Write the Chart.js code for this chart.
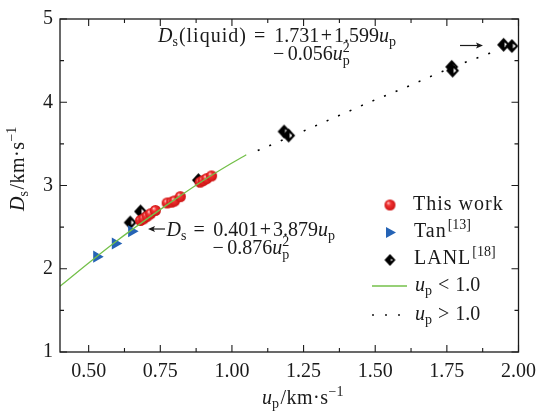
<!DOCTYPE html>
<html><head><meta charset="utf-8">
<script src="https://cdn.jsdelivr.net/npm/chart.js@4/dist/chart.umd.min.js"></script>
<style>html,body{margin:0;padding:0;background:#fff}</style>
</head><body>
<canvas id="c" width="544" height="414"></canvas>
<script>
// ---- data ----
const xTicks = [0.5, 0.75, 1.0, 1.25, 1.5, 1.75, 2.0];
const xMinor = [0.625, 0.875, 1.125, 1.375, 1.625, 1.875];
const yTicks = [1, 2, 3, 4, 5];
const yMinor = [1.5, 2.5, 3.5, 4.5];

const thisWorkX = [0.681, 0.692, 0.704, 0.716, 0.733, 0.774, 0.790, 0.800, 0.820, 0.889, 0.900, 0.912, 0.929];
const thisWorkY = [2.58, 2.60, 2.63, 2.66, 2.70, 2.79, 2.80, 2.815, 2.866, 3.04, 3.06, 3.083, 3.115];

const tanX = [0.528, 0.593, 0.650];
const tanY = [2.145, 2.303, 2.45];

const lanlX = [0.645, 0.681, 0.883, 1.182, 1.198, 1.767, 1.770, 1.948, 1.977];
const lanlY = [2.555, 2.688, 3.064, 3.648, 3.600, 4.425, 4.38, 4.69, 4.675];

const fitLowX = [0.40, 0.50, 0.60, 0.70, 0.80, 0.90, 1.00, 1.05];
const fitLowY = [1.79, 2.07, 2.34, 2.59, 2.83, 3.06, 3.27, 3.37];

const fitHighX = [1.09, 1.20, 1.30, 1.40, 1.50, 1.60, 1.70, 1.80, 1.90, 1.93];
const fitHighY = [3.42, 3.58, 3.73, 3.88, 4.03, 4.17, 4.32, 4.46, 4.59, 4.63];

// ---- styles ----
const FAM = "'Liberation Serif', 'Times New Roman', serif";
const GREEN = '#74c04a';
const BLUE = '#2563b5';
const INK = '#1a1a1a';

function ballImg(r) {
  const s = Math.ceil(2 * r + 2), c = document.createElement('canvas');
  c.width = c.height = s;
  const g = c.getContext('2d'), m = s / 2;
  const grd = g.createRadialGradient(m - r * 0.35, m - r * 0.4, r * 0.05, m, m, r);
  grd.addColorStop(0, '#ffc4c4');
  grd.addColorStop(0.35, '#f23333');
  grd.addColorStop(1, '#cc1414');
  g.fillStyle = grd;
  g.beginPath(); g.arc(m, m, r, 0, Math.PI * 2); g.fill();
  return c;
}
function diamondImg(w, h) {
  const c = document.createElement('canvas');
  c.width = Math.ceil(w + 2); c.height = Math.ceil(h + 2);
  const g = c.getContext('2d'), cx = c.width / 2, cy = c.height / 2;
  g.fillStyle = '#000';
  g.beginPath();
  g.moveTo(cx, cy - h / 2); g.lineTo(cx + w / 2, cy); g.lineTo(cx, cy + h / 2); g.lineTo(cx - w / 2, cy);
  g.closePath(); g.fill();
  g.fillStyle = '#fff';
  g.beginPath();
  g.moveTo(cx + 1, cy - h / 2 + 4.5); g.lineTo(cx + w / 2 - 2.8, cy); g.lineTo(cx + 1, cy + h / 2 - 4.5);
  g.closePath(); g.fill();
  return c;
}
const BALL = ballImg(5.5);
const DIAM = diamondImg(13, 14);
const DIAM_L = diamondImg(11, 12);

const pts = (xs, ys) => xs.map((x, i) => ({ x, y: ys[i] }));

// ---- rich text helper ----
function setFont(ctx, size, italic) { ctx.font = (italic ? 'italic ' : '') + size + 'px ' + FAM; }
function run(ctx, segs, x, y, size) {
  let cx = x;
  for (const s of segs) {
    if (typeof s === 'number') { cx += s; continue; }
    if (s.k === 'ss') {
      setFont(ctx, size * 0.7, false);
      ctx.fillText(s.sup, cx, y - size * 0.42);
      const w1 = ctx.measureText(s.sup).width;
      ctx.fillText(s.sub, cx, y + size * 0.24);
      const w2 = ctx.measureText(s.sub).width;
      cx += Math.max(w1, w2);
      continue;
    }
    const small = s.k === 'sub' || s.k === 'sup';
    const sz = small ? size * 0.7 : size;
    let dy = 0;
    if (s.k === 'sub') dy = size * 0.22;
    if (s.k === 'sup') dy = -size * 0.4;
    setFont(ctx, sz, s.i);
    ctx.letterSpacing = (s.ls || 0) + 'px';
    ctx.fillText(s.t, cx, y + dy);
    cx += ctx.measureText(s.t).width;
    ctx.letterSpacing = '0px';
  }
  return cx;
}

function arrow(ctx, x1, y, x2) {
  const dir = Math.sign(x2 - x1);
  ctx.save();
  ctx.strokeStyle = INK; ctx.fillStyle = INK; ctx.lineWidth = 1.2;
  ctx.beginPath(); ctx.moveTo(x1, y); ctx.lineTo(x2 - dir * 4, y); ctx.stroke();
  ctx.beginPath(); ctx.moveTo(x2, y); ctx.lineTo(x2 - dir * 7, y - 3); ctx.lineTo(x2 - dir * 5.5, y); ctx.lineTo(x2 - dir * 7, y + 3); ctx.closePath(); ctx.fill();
  ctx.restore();
}

const decor = {
  id: 'decor',
  afterDraw(chart) {
    const ctx = chart.ctx, a = chart.chartArea, sx = chart.scales.x, sy = chart.scales.y;
    ctx.save();
    // frame
    ctx.strokeStyle = INK; ctx.lineWidth = 1.3;
    ctx.strokeRect(a.left, a.top, a.right - a.left, a.bottom - a.top);
    ctx.lineWidth = 1.1;
    ctx.beginPath();
    const tick = (vals, len) => {
      vals.forEach(v => {
        const px = sx.getPixelForValue(v);
        ctx.moveTo(px, a.bottom); ctx.lineTo(px, a.bottom - len);
        ctx.moveTo(px, a.top); ctx.lineTo(px, a.top + len);
      });
    };
    const ticky = (vals, len) => {
      vals.forEach(v => {
        const py = sy.getPixelForValue(v);
        ctx.moveTo(a.left, py); ctx.lineTo(a.left + len, py);
        ctx.moveTo(a.right, py); ctx.lineTo(a.right - len, py);
      });
    };
    tick(xTicks, 7); tick(xMinor, 4);
    ticky(yTicks, 7); ticky(yMinor, 4);
    ctx.stroke();

    ctx.fillStyle = INK;
    ctx.textBaseline = 'alphabetic';
    ctx.textAlign = 'left';

    // x title
    run(ctx, [{ t: 'u', i: 1 }, { t: 'p', k: 'sub' }, 1.5, { t: '/km·s', ls: 0.5 }, { t: '−1', k: 'sup' }], 262, 404, 20);
    // y title
    ctx.save();
    ctx.translate(24, 211);
    ctx.rotate(-Math.PI / 2);
    run(ctx, [{ t: 'D', i: 1 }, { t: 's', k: 'sub' }, 1.5, { t: '/km·s', ls: 0.5 }, { t: '−1', k: 'sup' }], 0, 0, 20);
    ctx.restore();

    // annotation 1 (liquid)
    run(ctx, [{ t: 'D', i: 1 }, { t: 's', k: 'sub' }, 1, { t: '(liquid)', ls: 1 }, 7, { t: '=' }, 9,
      { t: '1.731' }, 1.5, { t: '+' }, 2, { t: '1.599' }, { t: 'u', i: 1 }, { t: 'p', k: 'sub' }], 158, 42, 20);
    run(ctx, [{ t: '−' }, 3.5, { t: '0.056' }, { t: 'u', i: 1 }, { k: 'ss', sub: 'p', sup: '2' }], 273, 60, 20);
    arrow(ctx, 460, 45.5, 483);

    // annotation 2
    arrow(ctx, 165, 229, 148);
    run(ctx, [{ t: 'D', i: 1 }, { t: 's', k: 'sub' }, 7, { t: '=' }, 8.5,
      { t: '0.401' }, 1.5, { t: '+' }, 2, { t: '3.879' }, { t: 'u', i: 1 }, { t: 'p', k: 'sub' }], 166.5, 236, 20);
    run(ctx, [{ t: '−' }, 3.5, { t: '0.876' }, { t: 'u', i: 1 }, { k: 'ss', sub: 'p', sup: '2' }], 212.5, 254, 20);

    // legend
    ctx.drawImage(BALL, 390 - BALL.width / 2, 205 - BALL.height / 2);
    run(ctx, [{ t: 'This work', ls: 1 }], 413, 210, 20);

    ctx.fillStyle = BLUE;
    ctx.beginPath(); ctx.moveTo(396, 232.5); ctx.lineTo(386, 227); ctx.lineTo(386, 238); ctx.closePath(); ctx.fill();
    ctx.fillStyle = INK;
    run(ctx, [{ t: 'Tan', ls: 1 }, 1, { t: '[13]', k: 'sup' }], 414, 237, 20);

    ctx.drawImage(DIAM_L, 390 - DIAM_L.width / 2, 260 - DIAM_L.height / 2);
    run(ctx, [{ t: 'LANL', ls: 1 }, 1, { t: '[18]', k: 'sup' }], 414, 264, 20);

    ctx.strokeStyle = GREEN; ctx.lineWidth = 1.4;
    ctx.beginPath(); ctx.moveTo(372, 286); ctx.lineTo(407, 286); ctx.stroke();
    run(ctx, [{ t: 'u', i: 1 }, { t: 'p', k: 'sub' }, 6, { t: '<' }, 6, { t: '1.0' }], 415, 291, 20);

    ctx.strokeStyle = INK; ctx.lineWidth = 1.6; ctx.setLineDash([2, 11]);
    ctx.beginPath(); ctx.moveTo(372, 315); ctx.lineTo(402, 315); ctx.stroke();
    ctx.setLineDash([]);
    run(ctx, [{ t: 'u', i: 1 }, { t: 'p', k: 'sub' }, 6, { t: '>' }, 6, { t: '1.0' }], 415, 320, 20);

    ctx.restore();
  }
};

new Chart(document.getElementById('c'), {
  type: 'scatter',
  data: {
    datasets: [
      { label: 'up < 1.0', type: 'line', showLine: true, data: pts(fitLowX, fitLowY), borderColor: GREEN, borderWidth: 1.3,
        pointRadius: 0, cubicInterpolationMode: 'monotone', fill: false },
      { label: 'up > 1.0', type: 'line', showLine: true, data: pts(fitHighX, fitHighY), borderColor: '#000', borderWidth: 1.6,
        borderDash: [2, 10.5], pointRadius: 0, cubicInterpolationMode: 'monotone', fill: false },
      { label: 'This work', data: pts(thisWorkX, thisWorkY), pointStyle: BALL, pointRadius: 5.5 },
      { label: 'Tan', data: pts(tanX, tanY), pointStyle: 'triangle', rotation: 90, pointRadius: 7,
        backgroundColor: BLUE, borderColor: BLUE, borderWidth: 0 },
      { label: 'LANL', data: pts(lanlX, lanlY), pointStyle: DIAM, pointRadius: 6.5 }
    ]
  },
  options: {
    responsive: false, animation: false, devicePixelRatio: 1,
    layout: { padding: { top: 15, right: 23, left: 0, bottom: 0 } },
    plugins: { legend: { display: false }, tooltip: { enabled: false } },
    scales: {
      x: {
        type: 'linear', min: 0.4, max: 2.0,
        afterBuildTicks: s => { s.ticks = xTicks.map(v => ({ value: v })); },
        afterFit: s => { s.height = 62; },
        ticks: { callback: v => Number(v).toFixed(2), font: { family: FAM, size: 20 }, color: INK, padding: 8, maxRotation: 0, autoSkip: false },
        grid: { display: false, drawTicks: false }, border: { display: false }
      },
      y: {
        type: 'linear', min: 1, max: 5,
        afterBuildTicks: s => { s.ticks = yTicks.map(v => ({ value: v })); },
        afterFit: s => { s.width = 60; },
        ticks: { callback: v => String(v), font: { family: FAM, size: 20 }, color: INK, padding: 7, autoSkip: false },
        grid: { display: false, drawTicks: false }, border: { display: false }
      }
    }
  },
  plugins: [decor]
});
</script>
</body></html>
